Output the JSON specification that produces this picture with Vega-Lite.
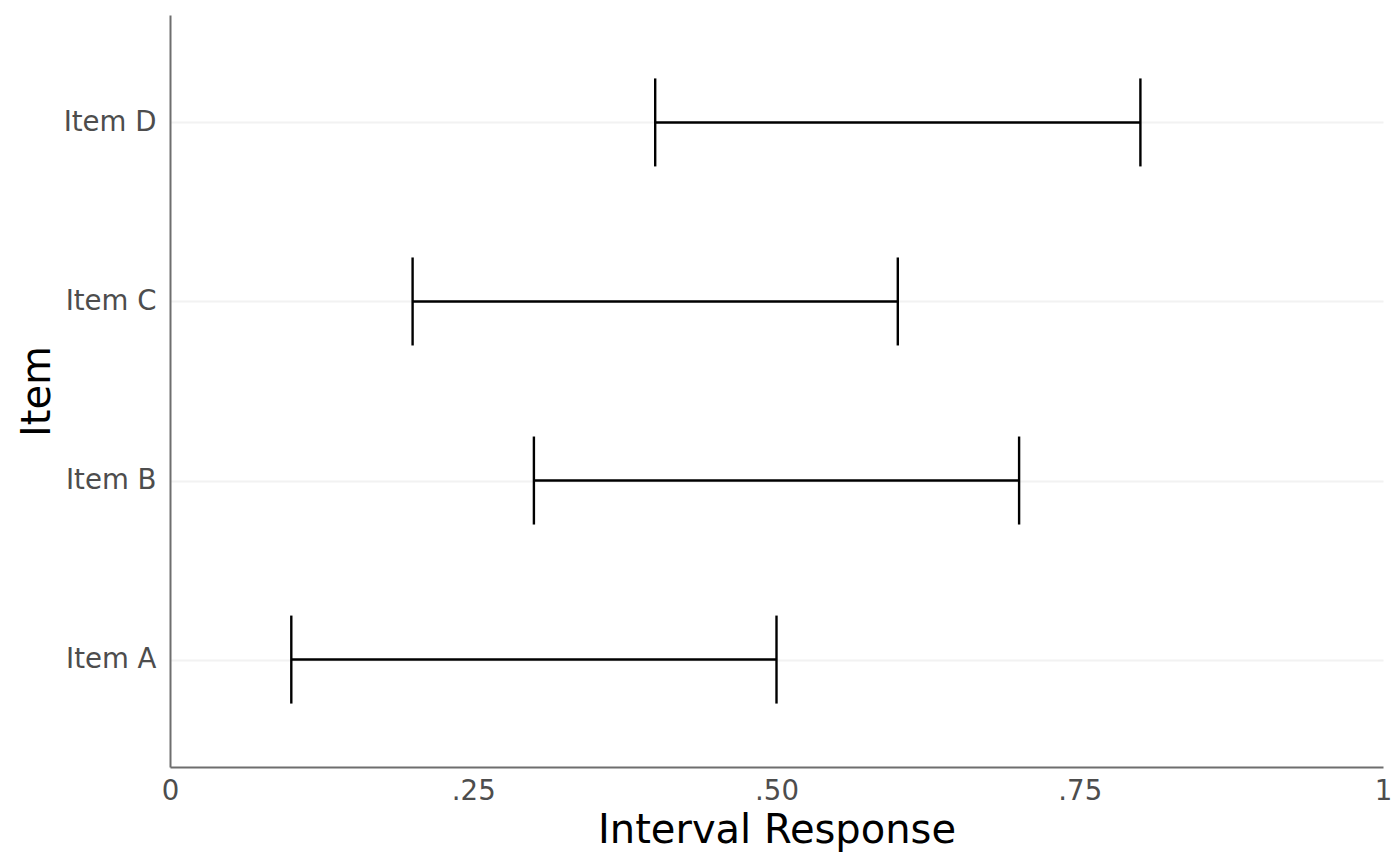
{
  "$schema": "https://vega.github.io/schema/vega-lite/v6.json",
  "width": 1213,
  "height": 752,
  "autosize": {"type": "none"},
  "padding": {"left": 170, "top": 15, "right": 17, "bottom": 99},
  "background": "white",
  "config": {
    "view": {"stroke": null},
    "font": "DejaVu Sans",
    "axis": {"labelFont": "DejaVu Sans", "titleFont": "DejaVu Sans", "titleFontWeight": "normal"}
  },
  "data": {"values": [
    {"item": "Item A", "lo": 0.1, "hi": 0.5},
    {"item": "Item B", "lo": 0.3, "hi": 0.7},
    {"item": "Item C", "lo": 0.2, "hi": 0.6},
    {"item": "Item D", "lo": 0.4, "hi": 0.8}
  ]},
  "encoding": {
    "y": {
      "field": "item", "type": "nominal",
      "sort": ["Item D", "Item C", "Item B", "Item A"],
      "scale": {"type": "point", "padding": 0.6},
      "axis": {
        "title": "Item", "titleFontSize": 40, "titleColor": "black", "titlePadding": 6,
        "labelFontSize": 27.6, "labelColor": "#4d4d4d", "labelPadding": 14,
        "ticks": false, "domainColor": "#6e6e6e", "domainWidth": 2,
        "grid": true, "gridColor": "#f2f2f2", "gridWidth": 2
      }
    }
  },
  "layer": [
    {
      "mark": {"type": "rule", "color": "black", "strokeWidth": 2.4},
      "encoding": {
        "x": {
          "field": "lo", "type": "quantitative",
          "scale": {"domain": [0, 1], "nice": false, "zero": false},
          "axis": {
            "title": "Interval Response", "titleFontSize": 40, "titleColor": "black", "titlePadding": 6,
            "values": [0, 0.25, 0.5, 0.75, 1],
            "labelExpr": "datum.value == 0 ? '0' : datum.value == 1 ? '1' : replace(format(datum.value, '.2f'), '0.', '.')",
            "labelFontSize": 27.6, "labelColor": "#4d4d4d", "labelPadding": 10,
            "ticks": false, "grid": false, "domainColor": "#6e6e6e", "domainWidth": 2,
            "labelFlush": false
          }
        },
        "x2": {"field": "hi"}
      }
    },
    {
      "mark": {"type": "tick", "color": "black", "opacity": 1, "size": 88, "thickness": 2.4, "orient": "vertical"},
      "encoding": {"x": {"field": "lo", "type": "quantitative"}}
    },
    {
      "mark": {"type": "tick", "color": "black", "opacity": 1, "size": 88, "thickness": 2.4, "orient": "vertical"},
      "encoding": {"x": {"field": "hi", "type": "quantitative"}}
    }
  ]
}
